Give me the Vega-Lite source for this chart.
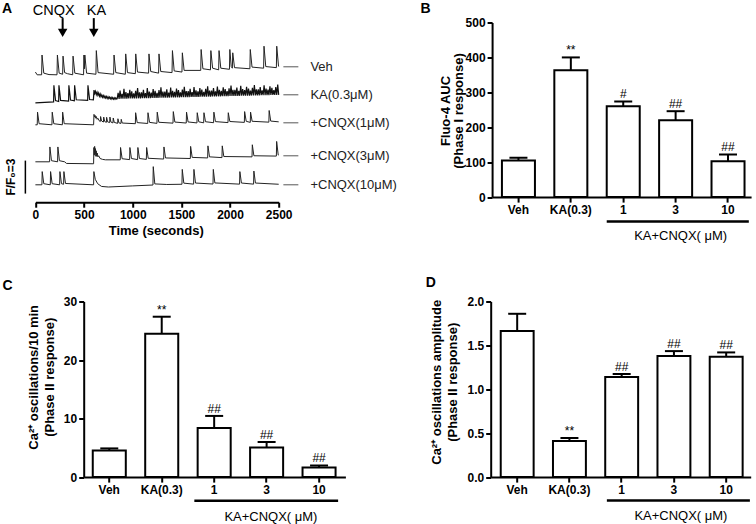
{
"$schema":"https://vega.github.io/schema/vega-lite/v6.json",
"padding":{"left":1.7,"top":1.5,"right":0,"bottom":0},
"bounds":"flush",
"spacing":279,
"datasets":{
"veh":[{"t":0,"f":1.25},{"t":18,"f":1.0},{"t":64,"f":1.0},{"t":68,"f":2.8},{"t":86,"f":1.15},{"t":140,"f":1.02},{"t":222,"f":1.0},{"t":226,"f":2.8},{"t":244,"f":1.15},{"t":280,"f":1.05},{"t":284,"f":2.7},{"t":300,"f":1.2},{"t":330,"f":1.1},{"t":383,"f":1.0},{"t":387,"f":2.7},{"t":405,"f":1.15},{"t":495,"f":1.0},{"t":499,"f":2.8},{"t":504,"f":1.55},{"t":508,"f":2.8},{"t":526,"f":1.15},{"t":622,"f":1.05},{"t":626,"f":3.2},{"t":644,"f":1.2},{"t":804,"f":1.05},{"t":808,"f":2.8},{"t":826,"f":1.2},{"t":924,"f":1.05},{"t":928,"f":2.9},{"t":946,"f":1.2},{"t":1027,"f":1.1},{"t":1031,"f":2.9},{"t":1049,"f":1.25},{"t":1163,"f":1.15},{"t":1167,"f":2.9},{"t":1185,"f":1.3},{"t":1266,"f":1.15},{"t":1270,"f":2.9},{"t":1288,"f":1.3},{"t":1404,"f":1.2},{"t":1408,"f":3.2},{"t":1426,"f":1.35},{"t":1506,"f":1.25},{"t":1510,"f":3.0},{"t":1528,"f":1.4},{"t":1699,"f":1.4},{"t":1703,"f":3.3},{"t":1721,"f":1.55},{"t":1799,"f":1.45},{"t":1803,"f":3.2},{"t":1821,"f":1.6},{"t":1883,"f":1.45},{"t":1887,"f":3.2},{"t":1905,"f":1.6},{"t":1994,"f":1.5},{"t":1998,"f":3.3},{"t":2012,"f":1.75},{"t":2024,"f":1.6},{"t":2028,"f":3.0},{"t":2046,"f":1.65},{"t":2204,"f":1.55},{"t":2208,"f":3.3},{"t":2226,"f":1.7},{"t":2345,"f":1.6},{"t":2349,"f":3.6},{"t":2367,"f":1.75},{"t":2476,"f":1.65},{"t":2480,"f":3.6},{"t":2498,"f":1.8},{"t":2500,"f":1.75}],
"ka":[{"t":0,"f":1.0},{"t":187,"f":1.08},{"t":190,"f":2.6},{"t":207,"f":1.2},{"t":239,"f":1.12},{"t":242,"f":2.6},{"t":259,"f":1.22},{"t":341,"f":1.15},{"t":344,"f":2.6},{"t":361,"f":1.25},{"t":400,"f":1.18},{"t":403,"f":2.6},{"t":420,"f":1.28},{"t":537,"f":1.22},{"t":540,"f":2.6},{"t":557,"f":1.3},{"t":596,"f":1.27},{"t":602,"f":2.15},{"t":610,"f":1.85},{"t":618,"f":2.05},{"t":626,"f":1.75},{"t":634,"f":1.95},{"t":642,"f":1.68},{"t":650,"f":1.88},{"t":658,"f":1.6},{"t":666,"f":1.8},{"t":674,"f":1.55},{"t":682,"f":1.72},{"t":690,"f":1.5},{"t":698,"f":1.66},{"t":706,"f":1.46},{"t":714,"f":1.62},{"t":722,"f":1.43},{"t":730,"f":1.58},{"t":738,"f":1.4},{"t":746,"f":1.55},{"t":754,"f":1.38},{"t":762,"f":1.52},{"t":770,"f":1.36},{"t":778,"f":1.5},{"t":786,"f":1.34},{"t":794,"f":1.48},{"t":802,"f":1.33},{"t":810,"f":1.46},{"t":818,"f":1.33},{"t":826,"f":1.45},{"t":834,"f":1.34},
{"t":840,"f":1.36},{"t":850,"f":1.91},{"t":860,"f":1.36},{"t":870,"f":2.11},{"t":880,"f":1.37},{"t":890,"f":1.82},{"t":900,"f":1.37},{"t":910,"f":2.27},{"t":920,"f":1.38},{"t":930,"f":1.98},{"t":940,"f":1.38},{"t":950,"f":1.88},{"t":960,"f":1.39},{"t":970,"f":2.19},{"t":980,"f":1.39},{"t":990,"f":2.04},{"t":1000,"f":1.4},{"t":1010,"f":1.85},{"t":1020,"f":1.4},{"t":1030,"f":2.1},{"t":1040,"f":1.4},{"t":1050,"f":2.35},{"t":1060,"f":1.41},{"t":1070,"f":1.96},{"t":1080,"f":1.41},{"t":1090,"f":1.96},{"t":1100,"f":1.42},{"t":1110,"f":2.17},{"t":1120,"f":1.42},{"t":1130,"f":1.87},{"t":1140,"f":1.43},{"t":1150,"f":2.33},{"t":1160,"f":1.43},{"t":1170,"f":2.03},{"t":1180,"f":1.43},{"t":1190,"f":1.93},{"t":1200,"f":1.44},{"t":1210,"f":2.24},{"t":1220,"f":1.44},{"t":1230,"f":2.09},{"t":1240,"f":1.45},{"t":1250,"f":1.9},{"t":1260,"f":1.45},{"t":1270,"f":2.15},{"t":1280,"f":1.46},{"t":1290,"f":2.41},{"t":1300,"f":1.46},{"t":1310,"f":2.01},{"t":1320,"f":1.47},{"t":1330,"f":2.02},{"t":1340,"f":1.47},{"t":1350,"f":2.22},{"t":1360,"f":1.47},{"t":1370,"f":1.92},{"t":1380,"f":1.48},{"t":1390,"f":2.38},{"t":1400,"f":1.48},{"t":1410,"f":2.08},{"t":1420,"f":1.49},{"t":1430,"f":1.99},{"t":1440,"f":1.49},{"t":1450,"f":2.29},{"t":1460,"f":1.5},{"t":1470,"f":2.15},{"t":1480,"f":1.5},{"t":1490,"f":1.95},{"t":1500,"f":1.51},{"t":1510,"f":2.21},{"t":1520,"f":1.51},{"t":1530,"f":2.46},{"t":1540,"f":1.51},{"t":1550,"f":2.06},{"t":1560,"f":1.52},{"t":1570,"f":2.07},{"t":1580,"f":1.52},{"t":1590,"f":2.27},{"t":1600,"f":1.53},{"t":1610,"f":1.98},{"t":1620,"f":1.53},{"t":1630,"f":2.43},{"t":1640,"f":1.54},{"t":1650,"f":2.14},{"t":1660,"f":1.54},{"t":1670,"f":2.04},{"t":1680,"f":1.54},{"t":1690,"f":2.34},{"t":1700,"f":1.55},{"t":1710,"f":2.2},{"t":1720,"f":1.55},{"t":1730,"f":2.0},{"t":1740,"f":1.56},{"t":1750,"f":2.26},{"t":1760,"f":1.56},{"t":1770,"f":2.51},{"t":1780,"f":1.57},{"t":1790,"f":2.12},{"t":1800,"f":1.57},{"t":1810,"f":2.12},{"t":1820,"f":1.58},{"t":1830,"f":2.33},{"t":1840,"f":1.58},{"t":1850,"f":2.03},{"t":1860,"f":1.58},{"t":1870,"f":2.48},{"t":1880,"f":1.59},{"t":1890,"f":2.19},{"t":1900,"f":1.59},{"t":1910,"f":2.09},{"t":1920,"f":1.6},{"t":1930,"f":2.4},{"t":1940,"f":1.6},{"t":1950,"f":2.25},{"t":1960,"f":1.61},{"t":1970,"f":2.06},{"t":1980,"f":1.61},{"t":1990,"f":2.31},{"t":2000,"f":1.62},{"t":2010,"f":2.57},{"t":2020,"f":1.62},{"t":2030,"f":2.17},{"t":2040,"f":1.62},{"t":2050,"f":2.17},{"t":2060,"f":1.63},{"t":2070,"f":2.38},{"t":2080,"f":1.63},{"t":2090,"f":2.08},{"t":2100,"f":1.64},{"t":2110,"f":2.54},{"t":2120,"f":1.64},{"t":2130,"f":2.24},{"t":2140,"f":1.65},{"t":2150,"f":2.15},{"t":2160,"f":1.65},{"t":2170,"f":2.45},{"t":2180,"f":1.65},{"t":2190,"f":2.3},{"t":2200,"f":1.66},{"t":2210,"f":2.11},{"t":2220,"f":1.66},{"t":2230,"f":2.36},{"t":2240,"f":1.67},{"t":2250,"f":2.62},{"t":2260,"f":1.67},{"t":2270,"f":2.22},{"t":2280,"f":1.68},{"t":2290,"f":2.23},{"t":2300,"f":1.68},{"t":2310,"f":2.43},{"t":2320,"f":1.69},{"t":2330,"f":2.14},{"t":2340,"f":1.69},{"t":2350,"f":2.59},{"t":2360,"f":1.69},{"t":2370,"f":2.29},{"t":2380,"f":1.7},{"t":2390,"f":2.2},{"t":2400,"f":1.7},{"t":2410,"f":2.5},{"t":2420,"f":1.71},{"t":2430,"f":2.36},{"t":2440,"f":1.71},{"t":2450,"f":2.16},{"t":2460,"f":1.72},{"t":2470,"f":2.42},{"t":2480,"f":1.72},{"t":2490,"f":2.67},{"t":2500,"f":1.72}],
"c1":[{"t":0,"f":1.0},{"t":19,"f":1.0},{"t":22,"f":2.15},{"t":38,"f":1.1},{"t":170,"f":1.0},{"t":173,"f":2.15},{"t":189,"f":1.1},{"t":277,"f":1.0},{"t":280,"f":2.15},{"t":296,"f":1.1},{"t":598,"f":1.0},{"t":602,"f":1.95},{"t":608,"f":1.7},{"t":614,"f":1.85},{"t":620,"f":1.6},{"t":626,"f":1.75},{"t":634,"f":1.5},{"t":642,"f":1.6},{"t":652,"f":1.4},{"t":667,"f":1.3},{"t":670,"f":1.75},{"t":680,"f":1.35},{"t":699,"f":1.25},{"t":702,"f":1.7},{"t":712,"f":1.3},{"t":729,"f":1.22},{"t":732,"f":1.68},{"t":742,"f":1.27},{"t":763,"f":1.2},{"t":766,"f":1.7},{"t":776,"f":1.25},{"t":797,"f":1.17},{"t":800,"f":1.62},{"t":810,"f":1.22},{"t":845,"f":1.13},{"t":848,"f":1.55},{"t":858,"f":1.18},{"t":879,"f":1.12},{"t":882,"f":1.5},{"t":892,"f":1.16},{"t":1027,"f":1.1},{"t":1030,"f":2.1},{"t":1046,"f":1.2},{"t":1154,"f":1.12},{"t":1157,"f":2.1},{"t":1173,"f":1.22},{"t":1249,"f":1.13},{"t":1252,"f":2.15},{"t":1268,"f":1.23},{"t":1414,"f":1.15},{"t":1417,"f":2.2},{"t":1433,"f":1.25},{"t":1550,"f":1.16},{"t":1553,"f":2.15},{"t":1569,"f":1.26},{"t":1660,"f":1.17},{"t":1663,"f":2.1},{"t":1679,"f":1.27},{"t":1729,"f":1.18},{"t":1732,"f":2.1},{"t":1748,"f":1.28},{"t":1831,"f":1.19},{"t":1834,"f":2.15},{"t":1850,"f":1.29},{"t":1979,"f":1.2},{"t":1982,"f":2.1},{"t":1998,"f":1.3},{"t":2147,"f":1.22},{"t":2150,"f":2.2},{"t":2166,"f":1.32},{"t":2208,"f":1.22},{"t":2211,"f":2.15},{"t":2227,"f":1.32},{"t":2399,"f":1.24},{"t":2402,"f":2.3},{"t":2418,"f":1.34},{"t":2500,"f":1.27}],
"c3":[{"t":0,"f":1.0},{"t":146,"f":1.0},{"t":149,"f":2.35},{"t":165,"f":1.1},{"t":228,"f":1.0},{"t":231,"f":2.35},{"t":247,"f":1.1},{"t":300,"f":1.0},{"t":320,"f":0.85},{"t":598,"f":0.82},{"t":601,"f":2.3},{"t":605,"f":1.6},{"t":609,"f":2.4},{"t":613,"f":1.7},{"t":617,"f":2.2},{"t":621,"f":1.5},{"t":625,"f":2.0},{"t":630,"f":1.5},{"t":635,"f":1.8},{"t":642,"f":1.45},{"t":650,"f":1.55},{"t":665,"f":1.3},{"t":690,"f":1.22},{"t":720,"f":1.18},{"t":872,"f":1.18},{"t":875,"f":2.3},{"t":891,"f":1.28},{"t":968,"f":1.2},{"t":971,"f":2.3},{"t":987,"f":1.3},{"t":1050,"f":1.2},{"t":1053,"f":2.3},{"t":1069,"f":1.3},{"t":1140,"f":1.22},{"t":1143,"f":2.3},{"t":1159,"f":1.32},{"t":1318,"f":1.25},{"t":1321,"f":2.35},{"t":1337,"f":1.35},{"t":1592,"f":1.3},{"t":1595,"f":2.4},{"t":1611,"f":1.4},{"t":1770,"f":1.35},{"t":1773,"f":2.45},{"t":1789,"f":1.45},{"t":1917,"f":1.38},{"t":1920,"f":2.45},{"t":1936,"f":1.48},{"t":2226,"f":1.45},{"t":2229,"f":2.55},{"t":2245,"f":1.55},{"t":2476,"f":1.52},{"t":2479,"f":2.85},{"t":2495,"f":1.62},{"t":2500,"f":1.6}],
"c10":[{"t":0,"f":1.0},{"t":67,"f":1.0},{"t":70,"f":2.2},{"t":86,"f":1.1},{"t":153,"f":1.0},{"t":156,"f":2.2},{"t":172,"f":1.1},{"t":249,"f":1.0},{"t":252,"f":2.2},{"t":268,"f":1.1},{"t":290,"f":1.05},{"t":293,"f":2.2},{"t":309,"f":1.12},{"t":598,"f":1.0},{"t":601,"f":2.2},{"t":615,"f":1.5},{"t":640,"f":1.1},{"t":680,"f":0.85},{"t":750,"f":0.8},{"t":1000,"f":0.9},{"t":1208,"f":0.98},{"t":1211,"f":2.65},{"t":1227,"f":1.08},{"t":1350,"f":1.03},{"t":1506,"f":1.05},{"t":1509,"f":2.4},{"t":1525,"f":1.15},{"t":1626,"f":1.06},{"t":1629,"f":2.4},{"t":1645,"f":1.16},{"t":1825,"f":1.07},{"t":1828,"f":2.4},{"t":1844,"f":1.17},{"t":2098,"f":1.06},{"t":2101,"f":2.2},{"t":2117,"f":1.16},{"t":2242,"f":1.06},{"t":2245,"f":2.25},{"t":2261,"f":1.16},{"t":2500,"f":1.05}]
},
"vconcat":[
{"hconcat":[
{"width":195,"height":179.7,
"title":{"text":"A","anchor":"start","frame":"group","offset":-24.3,"dx":-81.6,"fontSize":14,"fontWeight":"bold","baseline":"alphabetic"},
"encoding":{"x":{"field":"t","type":"quantitative","scale":{"domain":[0,2500],"range":[-48.3,195],"nice":false,"zero":false},"axis":{"values":[0,500,1000,1500,2000,2500],"format":"d","labelFlush":false,"labelOverlap":false,"title":"Time (seconds)","titleX":72,"titlePadding":4}}},
"resolve":{"scale":{"y":"independent"}},
"layer":[
{"encoding":{"y":{"field":"f","type":"quantitative","scale":{"domain":[-10.582,5.7545],"nice":false,"zero":false},"axis":null}},
"layer":[
{"data":{"name":"veh"},"mark":{"type":"line","color":"#222","strokeWidth":1},"encoding":{}},
{"data":{"values":[{"t":2548,"t2":2702,"f":1.727}]},"mark":{"type":"rule","color":"#555","strokeWidth":1},"encoding":{"x2":{"field":"t2"}}},
{"data":{"values":[{"t":2826,"f":1.727,"lab":"Veh"}]},"mark":{"type":"text","align":"left","baseline":"middle","fontSize":13,"color":"#222"},"encoding":{"text":{"field":"lab"}}},
{"data":{"values":[{"t":280,"f":6.155,"f2":5.0},{"t":600,"f":6.155,"f2":5.0}]},"mark":{"type":"rule","strokeWidth":2,"color":"black"},"encoding":{"y2":{"field":"f2"}}},
{"data":{"values":[{"t":280,"f":4.82},{"t":600,"f":4.82}]},"mark":{"type":"point","shape":"triangle-down","size":90,"filled":true,"color":"black","opacity":1}},
{"data":{"values":[{"t":188,"f":6.455,"lab":"CNQX"},{"t":627,"f":6.455,"lab":"KA"}]},"mark":{"type":"text","fontSize":14.5,"baseline":"alphabetic","align":"center","color":"black"},"encoding":{"text":{"field":"lab"}}}
]},
{"encoding":{"y":{"field":"f","type":"quantitative","scale":{"domain":[-8.036,8.3],"nice":false,"zero":false},"axis":null}},
"layer":[
{"data":{"name":"ka"},"mark":{"type":"line","color":"#111","strokeWidth":1.2},"encoding":{}},
{"data":{"values":[{"t":2548,"t2":2702,"f":1.727}]},"mark":{"type":"rule","color":"#555","strokeWidth":1},"encoding":{"x2":{"field":"t2"}}},
{"data":{"values":[{"t":2826,"f":1.727,"lab":"KA(0.3μM)"}]},"mark":{"type":"text","align":"left","baseline":"middle","fontSize":13,"color":"#222"},"encoding":{"text":{"field":"lab"}}}
]},
{"encoding":{"y":{"field":"f","type":"quantitative","scale":{"domain":[-6.036,10.3],"nice":false,"zero":false},"axis":null}},
"layer":[
{"data":{"name":"c1"},"mark":{"type":"line","color":"#222","strokeWidth":1},"encoding":{}},
{"data":{"values":[{"t":2548,"t2":2702,"f":1.18}]},"mark":{"type":"rule","color":"#555","strokeWidth":1},"encoding":{"x2":{"field":"t2"}}},
{"data":{"values":[{"t":2826,"f":1.18,"lab":"+CNQX(1μM)"}]},"mark":{"type":"text","align":"left","baseline":"middle","fontSize":13,"color":"#222"},"encoding":{"text":{"field":"lab"}}}
]},
{"encoding":{"y":{"field":"f","type":"quantitative","scale":{"domain":[-2.673,13.664],"nice":false,"zero":false},"axis":null}},
"layer":[
{"data":{"name":"c3"},"mark":{"type":"line","color":"#222","strokeWidth":1},"encoding":{}},
{"data":{"values":[{"t":2548,"t2":2702,"f":1.545}]},"mark":{"type":"rule","color":"#555","strokeWidth":1},"encoding":{"x2":{"field":"t2"}}},
{"data":{"values":[{"t":2826,"f":1.545,"lab":"+CNQX(3μM)"}]},"mark":{"type":"text","align":"left","baseline":"middle","fontSize":13,"color":"#222"},"encoding":{"text":{"field":"lab"}}}
]},
{"encoding":{"y":{"field":"f","type":"quantitative","scale":{"domain":[-0.582,15.755],"nice":false,"zero":false},"axis":null}},
"layer":[
{"data":{"name":"c10"},"mark":{"type":"line","color":"#222","strokeWidth":1},"encoding":{}},
{"data":{"values":[{"t":2548,"t2":2702,"f":1.0}]},"mark":{"type":"rule","color":"#555","strokeWidth":1},"encoding":{"x2":{"field":"t2"}}},
{"data":{"values":[{"t":2826,"f":1.0,"lab":"+CNQX(10μM)"}]},"mark":{"type":"text","align":"left","baseline":"middle","fontSize":13,"color":"#222"},"encoding":{"text":{"field":"lab"}}},
{"data":{"values":[{"t":-103,"f":0.2,"f2":3.2}]},"mark":{"type":"rule","strokeWidth":1.5,"color":"black"},"encoding":{"y2":{"field":"f2"}}},
{"data":{"values":[{"t":-249,"f":1.7,"lab":"F/F₀=3"}]},"mark":{"type":"text","angle":270,"align":"center","baseline":"middle","fontSize":12,"fontWeight":"bold","color":"black"},"encoding":{"text":{"field":"lab"}}}
]}
]},
{"width":259,"height":174.6,
"title":{"text":"B","anchor":"start","frame":"group","offset":-10.7,"dx":-71.7,"fontSize":14,"fontWeight":"bold","baseline":"alphabetic"},
"data":{"values":[{"g":"Veh","m":105,"hi":113,"lab":""},{"g":"KA(0.3)","m":363,"hi":400,"lab":"**"},{"g":"1","m":260,"hi":274,"lab":"#"},{"g":"3","m":220,"hi":246,"lab":"##"},{"g":"10","m":103,"hi":122,"lab":"##"}]},
"encoding":{"x":{"field":"g","type":"nominal","sort":null,"scale":{"domain":["Veh","KA(0.3)","1","3","10"],"paddingInner":0.37,"paddingOuter":0.1565,"align":0.6},"axis":{"title":null,"labelAngle":0,"labelOverlap":false}}},
"layer":[
{"mark":{"type":"bar","fill":"white","stroke":"black","strokeWidth":2},"encoding":{"y":{"field":"m","type":"quantitative","scale":{"domain":[0,500],"nice":false},"axis":{"values":[0,100,200,300,400,500],"labelOverlap":false,"labelSeparation":0,"title":["Fluo-4 AUC","(Phase I response)"],"titleX":-46.7,"titleY":88,"titleBaseline":"middle","titleAlign":"center","titleAngle":270,"titleLineHeight":13.5}}}},
{"mark":{"type":"rule","strokeWidth":2,"color":"black"},"encoding":{"y":{"field":"m","type":"quantitative","axis":{"values":[0,100,200,300,400,500],"labelOverlap":false,"labelSeparation":0,"title":["Fluo-4 AUC","(Phase I response)"],"titleX":-46.7,"titleY":88,"titleBaseline":"middle","titleAlign":"center","titleAngle":270,"titleLineHeight":13.5}},"y2":{"field":"hi"}}},
{"mark":{"type":"tick","thickness":2,"size":18,"color":"black","opacity":1},"encoding":{"y":{"field":"hi","type":"quantitative","axis":{"values":[0,100,200,300,400,500],"labelOverlap":false,"labelSeparation":0,"title":["Fluo-4 AUC","(Phase I response)"],"titleX":-46.7,"titleY":88,"titleBaseline":"middle","titleAlign":"center","titleAngle":270,"titleLineHeight":13.5}}}},
{"mark":{"type":"text","dy":-3.2,"baseline":"alphabetic","fontSize":12,"color":"black"},"encoding":{"y":{"field":"hi","type":"quantitative","axis":{"values":[0,100,200,300,400,500],"labelOverlap":false,"labelSeparation":0,"title":["Fluo-4 AUC","(Phase I response)"],"titleX":-46.7,"titleY":88,"titleBaseline":"middle","titleAlign":"center","titleAngle":270,"titleLineHeight":13.5}},"text":{"field":"lab"}}},
{"data":{"values":[{"a":"1","b":"10","v":-70}]},"mark":{"type":"rule","strokeWidth":2.5,"color":"black"},"encoding":{"x":{"field":"a","type":"nominal","bandPosition":0},"x2":{"field":"b","bandPosition":1.13},"y":{"field":"v","type":"quantitative","axis":{"values":[0,100,200,300,400,500],"labelOverlap":false,"labelSeparation":0,"title":["Fluo-4 AUC","(Phase I response)"],"titleX":-46.7,"titleY":88,"titleBaseline":"middle","titleAlign":"center","titleAngle":270,"titleLineHeight":13.5}}}},
{"data":{"values":[{"a":"3","v":-110,"txt":"KA+CNQX( μM)"}]},"mark":{"type":"text","fontSize":13,"dx":5,"baseline":"middle","color":"black"},"encoding":{"x":{"field":"a","type":"nominal"},"y":{"field":"v","type":"quantitative","axis":{"values":[0,100,200,300,400,500],"labelOverlap":false,"labelSeparation":0,"title":["Fluo-4 AUC","(Phase I response)"],"titleX":-46.7,"titleY":88,"titleBaseline":"middle","titleAlign":"center","titleAngle":270,"titleLineHeight":13.5}},"text":{"field":"txt"}}}
]}
],"spacing":213.4,"bounds":"flush"},
{"hconcat":[
{"width":261.7,"height":175.6,
"title":{"text":"C","anchor":"start","frame":"group","offset":-9,"dx":-81.3,"fontSize":14,"fontWeight":"bold","baseline":"alphabetic"},
"data":{"values":[{"g":"Veh","m":4.55,"hi":4.9,"lab":""},{"g":"KA(0.3)","m":24.5,"hi":27.4,"lab":"**"},{"g":"1","m":8.4,"hi":10.45,"lab":"##"},{"g":"3","m":5.05,"hi":6.0,"lab":"##"},{"g":"10","m":1.65,"hi":1.98,"lab":"##"}]},
"encoding":{"x":{"field":"g","type":"nominal","sort":null,"scale":{"domain":["Veh","KA(0.3)","1","3","10"],"paddingInner":0.37,"paddingOuter":0.18,"align":0.48},"axis":{"title":null,"labelAngle":0,"labelOverlap":false}}},
"layer":[
{"mark":{"type":"bar","fill":"white","stroke":"black","strokeWidth":2},"encoding":{"y":{"field":"m","type":"quantitative","scale":{"domain":[0,30],"nice":false},"axis":{"values":[0,10,20,30],"labelOverlap":false,"title":["Ca²⁺ oscillations/10 min","(Phase II response)"],"titleX":-49.8,"titleY":75.3,"titleBaseline":"middle","titleAlign":"center","titleAngle":270,"titleLineHeight":16}}}},
{"mark":{"type":"rule","strokeWidth":2,"color":"black"},"encoding":{"y":{"field":"m","type":"quantitative"},"y2":{"field":"hi"}}},
{"mark":{"type":"tick","thickness":2,"size":18,"color":"black","opacity":1},"encoding":{"y":{"field":"hi","type":"quantitative"}}},
{"mark":{"type":"text","dy":-3.2,"baseline":"alphabetic","fontSize":12,"color":"black"},"encoding":{"y":{"field":"hi","type":"quantitative"},"text":{"field":"lab"}}},
{"data":{"values":[{"a":"1","b":"10","v":-4.05}]},"mark":{"type":"rule","strokeWidth":2.5,"color":"black"},"encoding":{"x":{"field":"a","type":"nominal","bandPosition":-0.1},"x2":{"field":"b","bandPosition":1.077},"y":{"field":"v","type":"quantitative"}}},
{"data":{"values":[{"a":"3","v":-6.83,"txt":"KA+CNQX( μM)"}]},"mark":{"type":"text","fontSize":13,"dx":4.3,"baseline":"middle","color":"black"},"encoding":{"x":{"field":"a","type":"nominal"},"y":{"field":"v","type":"quantitative"},"text":{"field":"txt"}}}
]},
{"width":260,"height":175.6,
"title":{"text":"D","anchor":"start","frame":"group","offset":-6,"dx":-65,"fontSize":14,"fontWeight":"bold","baseline":"alphabetic"},
"data":{"values":[{"g":"Veh","m":1.665,"hi":1.86,"lab":""},{"g":"KA(0.3)","m":0.41,"hi":0.445,"lab":"**"},{"g":"1","m":1.14,"hi":1.175,"lab":"##"},{"g":"3","m":1.38,"hi":1.435,"lab":"##"},{"g":"10","m":1.37,"hi":1.42,"lab":"##"}]},
"encoding":{"x":{"field":"g","type":"nominal","sort":null,"scale":{"domain":["Veh","KA(0.3)","1","3","10"],"paddingInner":0.37,"paddingOuter":0.173,"align":0.555},"axis":{"title":null,"labelAngle":0,"labelOverlap":false}}},
"layer":[
{"mark":{"type":"bar","fill":"white","stroke":"black","strokeWidth":2},"encoding":{"y":{"field":"m","type":"quantitative","scale":{"domain":[0,2],"nice":false},"axis":{"values":[0,0.5,1,1.5,2],"format":".1f","labelOverlap":false,"title":["Ca²⁺ oscillations amplitude","(Phase II response)"],"titleX":-54,"titleY":80.3,"titleBaseline":"middle","titleAlign":"center","titleAngle":270,"titleLineHeight":16}}}},
{"mark":{"type":"rule","strokeWidth":2,"color":"black"},"encoding":{"y":{"field":"m","type":"quantitative"},"y2":{"field":"hi"}}},
{"mark":{"type":"tick","thickness":2,"size":18,"color":"black","opacity":1},"encoding":{"y":{"field":"hi","type":"quantitative"}}},
{"mark":{"type":"text","dy":-3.2,"baseline":"alphabetic","fontSize":12,"color":"black"},"encoding":{"y":{"field":"hi","type":"quantitative"},"text":{"field":"lab"}}},
{"data":{"values":[{"a":"1","b":"10","v":-0.2665}]},"mark":{"type":"rule","strokeWidth":2.5,"color":"black"},"encoding":{"x":{"field":"a","type":"nominal","bandPosition":0.05},"x2":{"field":"b","bandPosition":1.22},"y":{"field":"v","type":"quantitative"}}},
{"data":{"values":[{"a":"3","v":-0.4408,"txt":"KA+CNQX( μM)"}]},"mark":{"type":"text","fontSize":13,"dx":7,"baseline":"middle","color":"black"},"encoding":{"x":{"field":"a","type":"nominal"},"y":{"field":"v","type":"quantitative"},"text":{"field":"txt"}}}
]}
],"spacing":145,"bounds":"flush"}
],
"config":{"font":"Liberation Sans","view":{"stroke":null},
"title":{"font":"Liberation Sans","color":"black"},
"axis":{"grid":false,"labelOverlap":false,"domainColor":"black","domainWidth":2,"tickColor":"black","tickWidth":2,"tickSize":5,"labelColor":"black","labelFont":"Liberation Sans","labelFontSize":12,"labelFontWeight":"bold","labelPadding":2,"titleColor":"black","titleFont":"Liberation Sans","titleFontSize":13,"titleFontWeight":"bold"},
"text":{"font":"Liberation Sans"}}
}
